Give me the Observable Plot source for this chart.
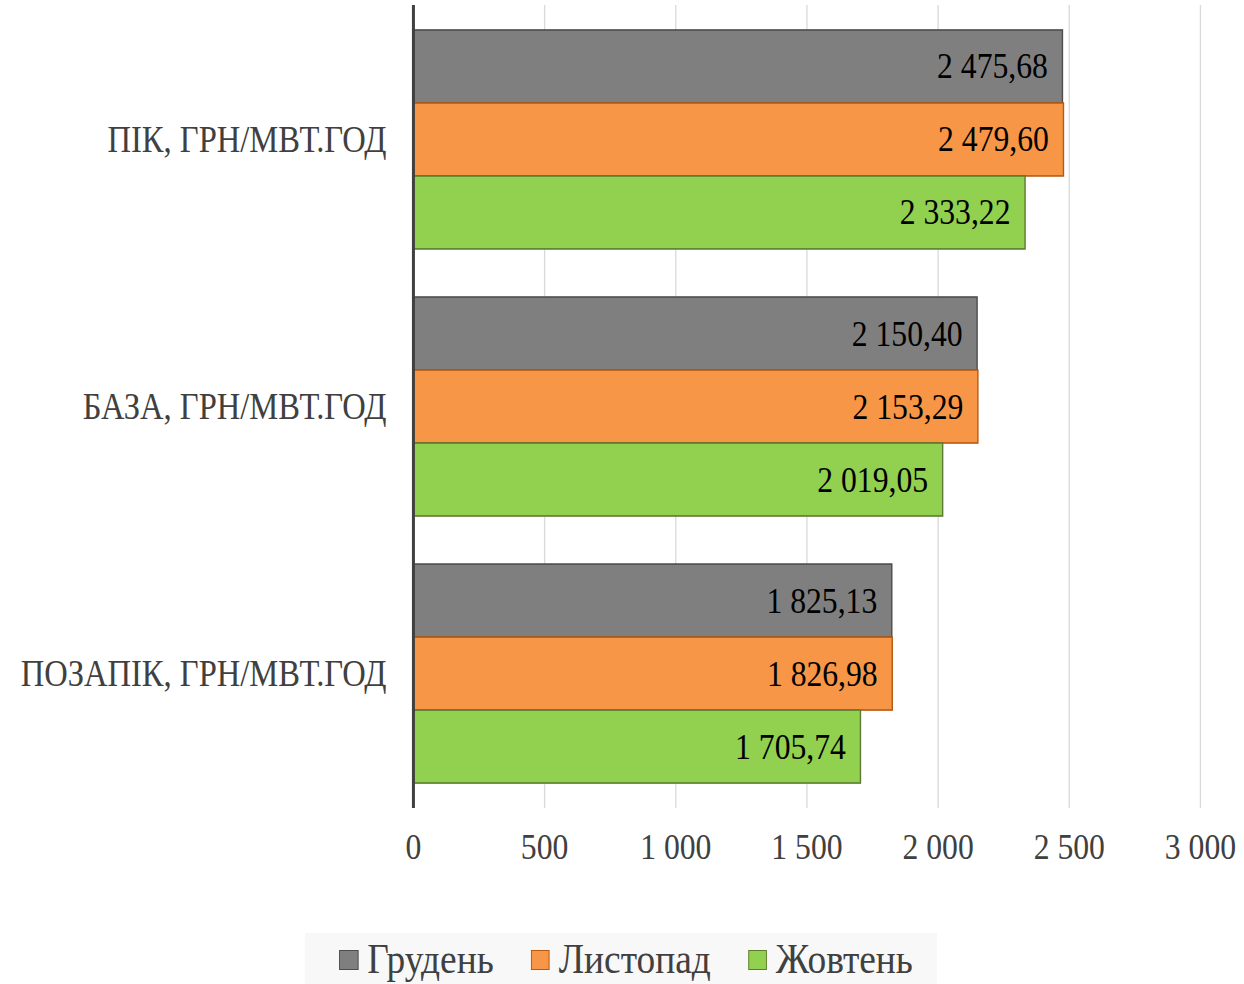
<!DOCTYPE html>
<html>
<head>
<meta charset="utf-8">
<script src="https://cdn.jsdelivr.net/npm/d3@7"></script>
<script src="https://cdn.jsdelivr.net/npm/@observablehq/plot@0.6"></script>
<style>
html, body { margin: 0; padding: 0; background: #fff; overflow: hidden; width: 1244px; height: 984px; }
body { font-family: "Liberation Serif", "Times New Roman", serif; position: relative; }
#chart { position: absolute; left: 0; top: 0; width: 1600px; }
#chart svg { transform-origin: 0 0; max-width: none !important; }
#legend { position: absolute; left: 305px; top: 933px; width: 632px; height: 51px; background: #f8f8f8; overflow: hidden; }
#legendInner { position: absolute; left: 0; top: 0; width: 100%; height: 100%; display: flex; justify-content: center; align-items: center; transform-origin: 50% 50%; }
.item { display: flex; align-items: center; color: #404040; white-space: nowrap; }
.sw { display: inline-block; box-sizing: border-box; border: 1.7px solid; }
</style>
</head>
<body>
<div id="chart"></div>
<div id="legend"><div id="legendInner"></div></div>
<script>
// ---- data ----
const categories = ["ПІК, ГРН/МВТ.ГОД", "БАЗА, ГРН/МВТ.ГОД", "ПОЗАПІК, ГРН/МВТ.ГОД"];
const series = ["Грудень", "Листопад", "Жовтень"];
const december = [2475.68, 2150.40, 1825.13];
const november = [2479.60, 2153.29, 1826.98];
const october  = [2333.22, 2019.05, 1705.74];
const xTicks = [0, 500, 1000, 1500, 2000, 2500, 3000];

const colors  = ["#7f7f7f", "#f79646", "#92d050"];
const strokes = ["#4d4d4d", "#b65a12", "#5c7a31"];

// ---- layout ----
const f = 0.88;                 // horizontal squeeze of the rendered chart
const W = 1244 / f;
const H = 880;
const mt = 5, mb = 72;
const pIn = 0.18, pOut = 0.0935;
const step = (H - mt - mb) / (categories.length - pIn + 2 * pOut);
const third = step * (1 - pIn) / series.length;

const loc = d3.formatLocale({decimal: ",", thousands: " ", grouping: [3], currency: ["", ""]});
const fmtV = loc.format(",.2f");
const fmtT = loc.format(",d");

const valuesBySeries = [december, november, october];
const rows = categories.flatMap((c, ci) =>
  series.map((s, si) => ({category: c, series: s, si, value: valuesBySeries[si][ci]})));

const plot = Plot.plot({
  width: W,
  height: H,
  marginLeft: 413 / f,
  marginRight: W - 1200 / f,
  marginTop: mt,
  marginBottom: mb,
  style: {fontFamily: "Liberation Serif, Times New Roman, serif", background: "transparent", overflow: "visible", maxWidth: "none"},
  x: {domain: [0, 3000]},
  y: {domain: categories, paddingInner: pIn, paddingOuter: pOut, round: false},
  marks: [
    Plot.gridX(xTicks, {stroke: "#d9d9d9", strokeOpacity: 1, strokeWidth: 1.3 / f}),
    ...series.map((s, si) => Plot.barX(rows.filter(d => d.si === si), {
      x: "value", y: "category",
      fill: colors[si], stroke: strokes[si], strokeWidth: 1.6,
      insetTop: si * third, insetBottom: (series.length - 1 - si) * third
    })),
    ...series.map((s, si) => Plot.text(rows.filter(d => d.si === si), {
      x: "value", y: "category",
      text: d => fmtV(d.value),
      textAnchor: "end", dx: -15 / f, dy: (si - 1) * third,
      fontSize: 36, fill: "#000"
    })),
    Plot.ruleX([0], {stroke: "#404040", strokeWidth: 3 / f}),
    Plot.axisY({tickSize: 0, tickPadding: 27 / f, fontSize: 37, color: "#404040", label: null}),
    Plot.axisX({ticks: xTicks, tickFormat: fmtT, tickSize: 0, tickPadding: 25, fontSize: 36, color: "#404040", label: null})
  ]
});
plot.style.maxWidth = "none";
plot.style.width = W + "px";
plot.style.height = H + "px";
plot.style.transform = `scaleX(${f})`;
document.getElementById("chart").appendChild(plot);

// ---- legend ----
const inner = document.getElementById("legendInner");
inner.style.transform = `scaleX(${f})`;
inner.style.width = (632 / f) + "px";
inner.style.left = ((632 - 632 / f) / 2 + 5) + "px";
series.forEach((s, si) => {
  const item = document.createElement("div");
  item.className = "item";
  item.style.marginRight = si < series.length - 1 ? (37 / f) + "px" : "0";
  const sw = document.createElement("span");
  sw.className = "sw";
  sw.style.width = (19 / f) + "px";
  sw.style.height = "20px";
  sw.style.background = colors[si];
  sw.style.borderColor = strokes[si];
  sw.style.marginRight = (9 / f) + "px";
  sw.style.marginTop = "2px";
  const t = document.createElement("span");
  t.textContent = s;
  t.style.fontSize = "42.5px";
  t.style.lineHeight = "42px";
  item.appendChild(sw);
  item.appendChild(t);
  inner.appendChild(item);
});
</script>
</body>
</html>
